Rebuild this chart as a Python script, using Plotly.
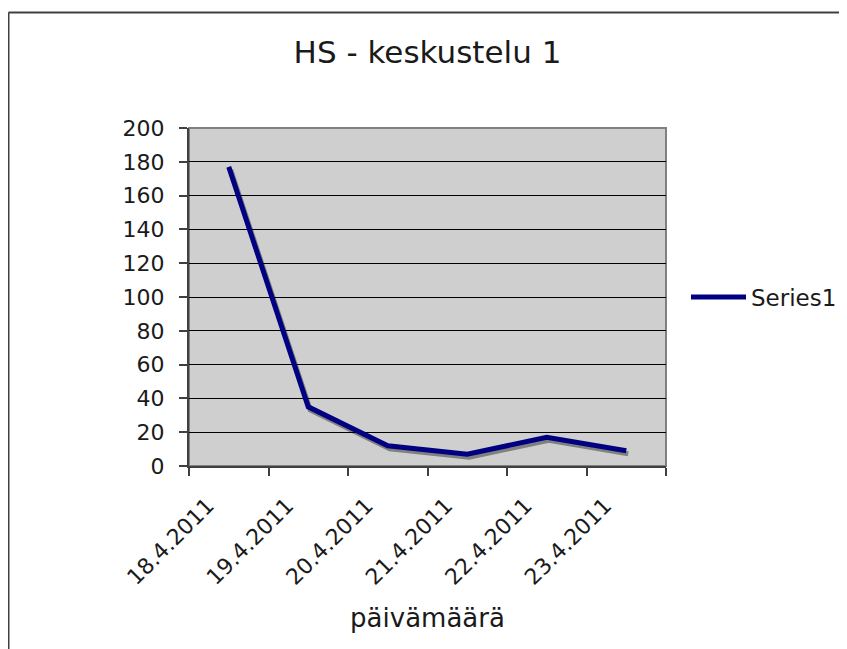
import plotly.graph_objects as go

categories = ["18.4.2011", "19.4.2011", "20.4.2011", "21.4.2011", "22.4.2011", "23.4.2011"]
values = [177, 35, 12, 7, 17, 9]
series_name = "Series1"
title_text = "HS - keskustelu 1"
x_title = "päivämäärä"
y_ticks = list(range(0, 201, 20))

# page body has an 8px margin; work in reference pixels and subtract it
OFF = 8
W, H = 847 - OFF, 649 - OFF


def fx(x):  # reference x -> figure x
    return x - OFF


def fy(y):
    return y - OFF


L, R = fx(189), fx(668)          # plotting region (px)
T, B = fy(128), fy(469)
rw, rh = R - L, B - T
dx, dy = 2, 3                    # shadow offset (px)

FONT = "DejaVu Sans"
TXT = "#1a1a1a"

fig = go.Figure()

# shadow (drawn first, underneath)
fig.add_trace(go.Scatter(x=categories, y=values, mode="lines", xaxis="x", yaxis="y",
                         line=dict(color="#808080", width=5), showlegend=False,
                         hoverinfo="skip"))
# main line
fig.add_trace(go.Scatter(x=categories, y=values, mode="lines", xaxis="x2", yaxis="y2",
                         name=series_name, line=dict(color="#000080", width=5)))


def px(x):  # reference x -> paper
    return (fx(x) - L) / rw


def py(y):
    return (B - fy(y)) / rh


shapes = [
    # plot area background
    dict(type="rect", xref="paper", yref="paper", x0=0, x1=(rw - dx) / rw,
         y0=dy / rh, y1=1, fillcolor="#CFCFCF", line=dict(color="#808080", width=2),
         layer="below"),
    # chart outer border (top and left edges; the rest lies outside the view)
    dict(type="line", xref="paper", yref="paper", x0=px(8.5), x1=px(860),
         y0=py(12.5), y1=py(12.5), line=dict(color="#404040", width=2), layer="below"),
    dict(type="line", xref="paper", yref="paper", x0=px(8.5), x1=px(8.5),
         y0=py(12.5), y1=py(660), line=dict(color="#404040", width=2), layer="below"),
]

fig.update_layout(
    width=W, height=H,
    margin=dict(l=L, r=W - R, t=T, b=H - B, pad=0),
    paper_bgcolor="white",
    plot_bgcolor="rgba(0,0,0,0)",
    font=dict(family=FONT, size=22, color=TXT),
    title=dict(text=title_text, x=fx(427.5) / W, xanchor="center", xref="container",
               y=1 - fy(52) / H, yanchor="middle", yref="container",
               font=dict(family=FONT, size=31, color=TXT)),
    xaxis=dict(domain=[dx / rw, 1], anchor="y", type="category", range=[-0.5, 5.5],
               visible=False, fixedrange=True),
    yaxis=dict(domain=[0, (rh - dy) / rh], anchor="x", range=[0, 200],
               visible=False, fixedrange=True),
    xaxis2=dict(domain=[0, (rw - dx) / rw], anchor="y2", type="category",
                range=[-0.5, 5.5], tickson="boundaries", ticks="outside", ticklen=8,
                tickcolor="#404040", tickwidth=1.5, tickangle=-45,
                ticklabelshift=-21, ticklabelstandoff=16,
                showline=True, linecolor="#404040", linewidth=2, showgrid=False,
                title=dict(text=x_title, font=dict(family=FONT, size=26, color=TXT),
                           standoff=20),
                tickfont=dict(family=FONT, size=22, color=TXT)),
    yaxis2=dict(domain=[dy / rh, 1], anchor="x2", range=[0, 200], tickvals=y_ticks,
                ticks="outside", ticklen=8, tickcolor="#404040", tickwidth=1.5,
                showline=True, linecolor="#404040", linewidth=2,
                showgrid=True, gridcolor="black", gridwidth=1, zeroline=False,
                ticklabelstandoff=10,
                tickfont=dict(family=FONT, size=22, color=TXT)),
    legend=dict(x=fx(686) / W, y=1 - fy(297) / H, xref="container", yref="container",
                xanchor="left", yanchor="middle",
                bgcolor="rgba(0,0,0,0)", itemwidth=55,
                font=dict(family=FONT, size=23, color=TXT)),
    shapes=shapes,
)

fig.write_html("out.html")
